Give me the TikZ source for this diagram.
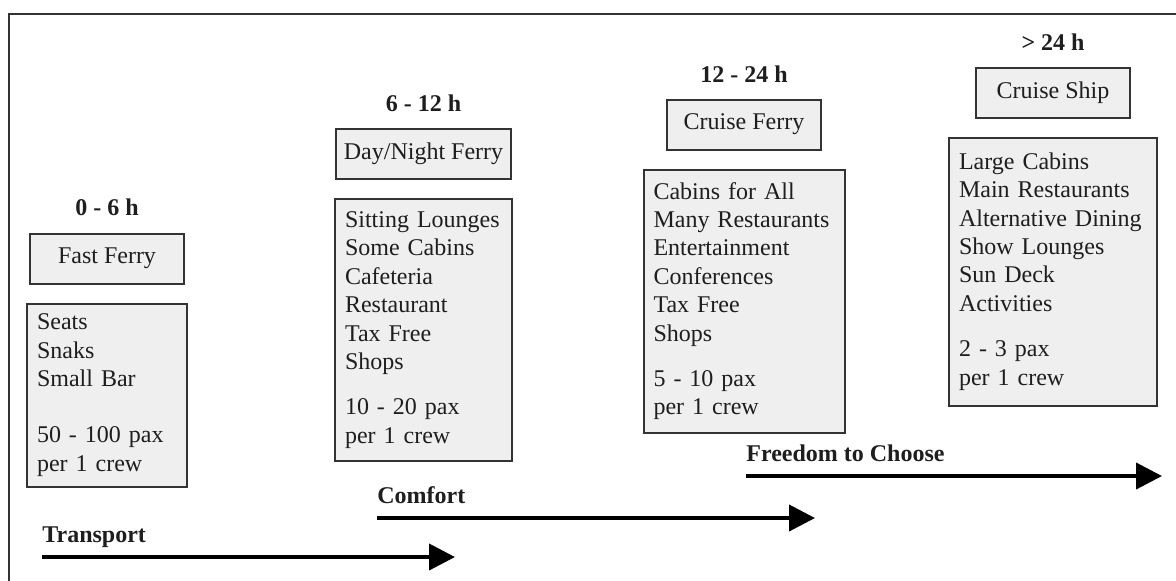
\documentclass[tikz,border=0pt]{standalone}
\usepackage{fontspec}
\setmainfont{Liberation Serif}
\usepackage{xcolor}
\definecolor{boxfill}{HTML}{EFEFEF}
\definecolor{ink}{HTML}{1E1E1E}
\definecolor{edge}{HTML}{333333}
\usepackage{tikz}
\usetikzlibrary{arrows.meta,positioning}

\begin{document}
\begin{tikzpicture}[x=0.5pt,y=-0.5pt,font=\fontsize{12}{14.2}\selectfont,text=ink,
  shipbox/.style={draw=edge,line width=1pt,fill=boxfill,minimum width=77pt,minimum height=25pt,inner xsep=4pt},
  listbox/.style={draw=edge,line width=1pt,fill=boxfill,align=left,inner xsep=5pt,inner ysep=0pt},
  hours/.style={font=\fontsize{12}{14.2}\selectfont\bfseries,inner sep=0pt},
  timearrow/.style={line width=2pt,-{Triangle[length=13pt,width=13pt]}}]
  \useasboundingbox (0,0) rectangle (1176,580);
  % cadre
  \draw[edge,line width=1pt] (8.5,600) -- (8.5,13.5) -- (1200,13.5);
  % colonnes : nom, x, y, duree, type, largeur texte, hauteur, services
  \def\ship#1#2#3#4#5#6#7#8{\node[shipbox] (#1) at (#2,#3) {#5};
     \node[hours,above=8pt of #1] (#1-h) {#4};
     \node[listbox,below=9pt of #1,text width=#6,minimum height=#7] (#1-l) {#8};}
  \ship{fast}{107}{258.5}{0 - 6 h}{Fast Ferry}{70pt}{91.5pt}
     {Seats\\Snaks\\Small Bar\\[14pt]50 - 100 pax\\per 1 crew}
  \ship{day}{423.5}{154}{6 - 12 h}{Day/Night Ferry}{78.5pt}{131pt}
     {Sitting Lounges\\Some Cabins\\Cafeteria\\Restaurant\\Tax Free\\Shops\\[8.5pt]10 - 20 pax\\per 1 crew}
  \ship{cferry}{744}{124.5}{12 - 24 h}{Cruise Ferry}{90.5pt}{131.5pt}
     {Cabins for All\\Many Restaurants\\Entertainment\\Conferences\\Tax Free\\Shops\\[8.5pt]5 - 10 pax\\per 1 crew}
  \ship{cship}{1053}{92.5}{> 24 h}{Cruise Ship}{94pt}{134pt}
     {Large Cabins\\Main Restaurants\\Alternative Dining\\Show Lounges\\Sun Deck\\Activities\\[8.5pt]2 - 3 pax\\per 1 crew}
  % fleches : nom, debut, fin, ligne, texte
  \foreach \n/\xa/\xb/\y/\lab in {tr/42/455/557/Transport,co/377/815/518/Comfort,fr/746/1162/476/Freedom to Choose}{
     \coordinate (\n-a) at (\xa,\y);
     \coordinate (\n-b) at (\xb,\y);
     \draw[timearrow] (\n-a) -- (\n-b);
     \node[hours,anchor=base west] (\n-lab) at ([yshift=7.25pt]\n-a) {\lab};}
\end{tikzpicture}
\end{document}
